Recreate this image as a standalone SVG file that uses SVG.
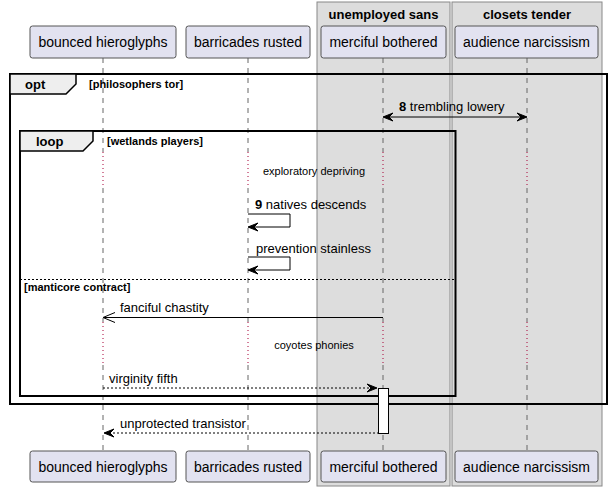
<svg xmlns="http://www.w3.org/2000/svg" width="612" height="491" viewBox="0 0 612 491">
<style>
.bg{fill:#FFFFFF}
.grp{fill:#DDDDDD;stroke:#888888;stroke-width:1}
.gt{font-family:"Liberation Sans",Arial,sans-serif;font-size:13px;font-weight:bold;fill:#000;text-anchor:middle}
.life{stroke:#666666;stroke-width:1;stroke-dasharray:5,5;fill:none}
.delay{stroke:#A80036;stroke-width:1;stroke-dasharray:1,3;fill:none}
.pbox{fill:#E2E2F0;stroke:#555555;stroke-width:1}
.pt{font-family:"Liberation Sans",Arial,sans-serif;font-size:14px;fill:#000;text-anchor:middle}
.frame{fill:none;stroke:#000;stroke-width:2}
.tab{fill:#EEEEEE;stroke:#000;stroke-width:1.5}
.ft{font-family:"Liberation Sans",Arial,sans-serif;font-size:13px;font-weight:bold;fill:#000}
.fc{font-family:"Liberation Sans",Arial,sans-serif;font-size:11px;font-weight:bold;fill:#000}
.msg{stroke:#000;stroke-width:1;fill:none}
.dmsg{stroke:#000;stroke-width:1;fill:none;stroke-dasharray:2,2}
.ah{fill:#000;stroke:#000;stroke-width:1}
.mt{font-family:"Liberation Sans",Arial,sans-serif;font-size:13px;fill:#000}
.mb{font-weight:bold}
.dt{font-family:"Liberation Sans",Arial,sans-serif;font-size:11px;fill:#000;text-anchor:middle}
.act{fill:#FFFFFF;stroke:#000;stroke-width:1}
</style>
<rect class="bg" x="0" y="0" width="612" height="491"/>
<g id="box-unemployed-sans">
<rect class="grp" x="317" y="2" width="133" height="484"/>
<text class="gt" x="383.5" y="19">unemployed sans</text>
</g>
<g id="box-closets-tender">
<rect class="grp" x="452" y="2" width="150" height="484"/>
<text class="gt" x="527" y="19">closets tender</text>
</g>
<g id="lifelines">
<path class="life" d="M103,58V152M103,188V322M103,365V451"/>
<path class="delay" d="M103,152V188M103,322V365"/>
<path class="life" d="M248,58V152M248,188V322M248,365V451"/>
<path class="delay" d="M248,152V188M248,322V365"/>
<path class="life" d="M383,58V152M383,188V322M383,365V451"/>
<path class="delay" d="M383,152V188M383,322V365"/>
<path class="life" d="M527,58V152M527,188V322M527,365V451"/>
<path class="delay" d="M527,152V188M527,322V365"/>
</g>
<g id="p-bounced-hieroglyphs">
<rect class="pbox" x="30" y="26" width="146" height="32" rx="2.5"/>
<text class="pt" x="103" y="47">bounced hieroglyphs</text>
<rect class="pbox" x="30" y="451" width="146" height="31" rx="2.5"/>
<text class="pt" x="103" y="471.5">bounced hieroglyphs</text>
</g>
<g id="p-barricades-rusted">
<rect class="pbox" x="186" y="26" width="124" height="32" rx="2.5"/>
<text class="pt" x="248" y="47">barricades rusted</text>
<rect class="pbox" x="186" y="451" width="124" height="31" rx="2.5"/>
<text class="pt" x="248" y="471.5">barricades rusted</text>
</g>
<g id="p-merciful-bothered">
<rect class="pbox" x="321" y="26" width="125" height="32" rx="2.5"/>
<text class="pt" x="383.5" y="47">merciful bothered</text>
<rect class="pbox" x="321" y="451" width="125" height="31" rx="2.5"/>
<text class="pt" x="383.5" y="471.5">merciful bothered</text>
</g>
<g id="p-audience-narcissism">
<rect class="pbox" x="455" y="26" width="143" height="32" rx="2.5"/>
<text class="pt" x="526.5" y="47">audience narcissism</text>
<rect class="pbox" x="455" y="451" width="143" height="31" rx="2.5"/>
<text class="pt" x="526.5" y="471.5">audience narcissism</text>
</g>
<g id="frame-opt">
<rect class="frame" x="10" y="74" width="597" height="330"/>
<path class="tab" d="M10,74H76V84L66,94H10Z"/>
<text class="ft" x="25" y="89">opt</text>
<text class="fc" x="89" y="88">[philosophers tor]</text>
</g>
<g id="frame-loop">
<rect class="frame" x="20" y="131" width="435.5" height="265"/>
<path class="tab" d="M20,131H93V141L83,151H20Z"/>
<text class="ft" x="36" y="146">loop</text>
<text class="fc" x="107" y="145">[wetlands players]</text>
<line x1="20" y1="279.5" x2="455.5" y2="279.5" stroke="#000" stroke-width="1" stroke-dasharray="2,2"/>
<text class="fc" x="24" y="291">[manticore contract]</text>
</g>
<g id="connectors">
<line class="msg" x1="385" y1="117" x2="525" y2="117"/>
<polygon class="ah" points="393,113 383,117 393,121 389,117"/>
<polygon class="ah" points="517,113 527,117 517,121 521,117"/>
<text class="mt" x="399" y="111"><tspan class="mb">8</tspan> trembling lowery</text>
<text class="dt" x="314" y="175">exploratory depriving</text>
<path class="msg" d="M248,214H290V227H249"/>
<polygon class="ah" points="258,223 248,227 258,231 254,227"/>
<text class="mt" x="255" y="209"><tspan class="mb">9</tspan> natives descends</text>
<path class="msg" d="M248,257H290V270H249"/>
<polygon class="ah" points="258,266 248,270 258,274 254,270"/>
<text class="mt" x="256" y="253">prevention stainless</text>
<line class="msg" x1="104" y1="317.5" x2="383" y2="317.5"/>
<path class="msg" d="M115,312.5L103,317.5L115,322.5"/>
<text class="mt" x="120" y="312">fanciful chastity</text>
<text class="dt" x="314" y="349">coyotes phonies</text>
<line class="dmsg" x1="103" y1="388" x2="376" y2="388"/>
<polygon class="ah" points="367,384 377,388 367,392 371,388"/>
<text class="mt" x="109" y="383">virginity fifth</text>
<line class="dmsg" x1="105" y1="433" x2="378" y2="433"/>
<polygon class="ah" points="114,429 104,433 114,437 110,433"/>
<text class="mt" x="120" y="428">unprotected transistor</text>
</g>
<g id="activation-merciful-bothered">
<rect class="act" x="378.5" y="388.5" width="10" height="45"/>
</g>
</svg>
